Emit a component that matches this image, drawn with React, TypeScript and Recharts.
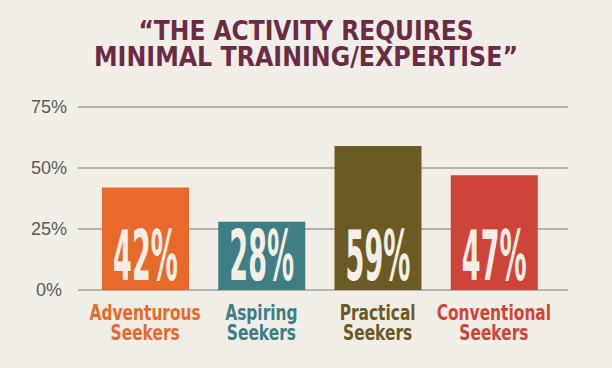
import { Bar, BarChart, CartesianGrid, Cell, LabelList, XAxis, YAxis } from "recharts";

const segments = ["Adventurous Seekers", "Aspiring Seekers", "Practical Seekers", "Conventional Seekers"];
const shares = [42, 28, 59, 47];
const colors = ["#e8692a", "#3f7e85", "#6b5a24", "#cf4439"];
const yTicks = [0, 25, 50, 75];
const titleLines = ["\u201CTHE ACTIVITY REQUIRES", "MINIMAL TRAINING/EXPERTISE\u201D"];

const data = segments.map((name, i) => ({ name, value: shares[i] }));

const narrow = "'DejaVu Sans Condensed', 'Liberation Sans', sans-serif";

function SegmentTick(props: any) {
  const { x, y, payload, index } = props;
  const words = String(payload.value).split(" ");
  return (
    <g transform={`translate(${x},${y}) scale(0.78,1)`}>
      {words.map((w, i) => (
        <text
          key={w}
          x={0}
          y={30 + i * 20}
          textAnchor="middle"
          fill={colors[index]}
          fontFamily={narrow}
          fontWeight={700}
          fontSize={22}
        >
          {w}
        </text>
      ))}
    </g>
  );
}

function PercentTick(props: any) {
  const { y, payload } = props;
  return (
    <text x={49} y={y} dy="0.35em" textAnchor="middle" fill="#5a5a5a" fontFamily="'Liberation Sans', sans-serif" fontSize={18}>
      {payload.value}%
    </text>
  );
}

function ValueLabel(props: any) {
  const { x, y, width, height, value } = props;
  return (
    <g transform={`translate(${x + width / 2},${y + height - 10}) scale(0.43,1)`}>
      <text x={0} y={0} textAnchor="middle" fill="#f3efe6" fontFamily={narrow} fontWeight={700} fontSize={70}>
        {value}%
      </text>
    </g>
  );
}

export default function App() {
  return (
    <div style={{ position: "fixed", top: 0, left: 0, width: 612, height: 368, background: "#f1eee7" }}>
      <svg width={612} height={80} style={{ position: "absolute", top: 0, left: 0 }}>
        {titleLines.map((line, i) => (
          <text
            key={line}
            x={306}
            y={40 + i * 26}
            textAnchor="middle"
            fill="#6b2b45"
            fontFamily={narrow}
            fontWeight={700}
            fontSize={26}
            textLength={i === 0 ? 335 : 424}
            lengthAdjust="spacingAndGlyphs"
          >
            {line}
          </text>
        ))}
      </svg>
      <BarChart width={612} height={368} data={data} margin={{ top: 107, right: 44, bottom: 0, left: 0 }}>
        <XAxis
          dataKey="name"
          height={78}
          axisLine={false}
          tickLine={false}
          tickSize={0}
          tickMargin={0}
          interval={0}
          padding={{ left: 9, right: 16 }}
          tick={<SegmentTick />}
        />
        <YAxis
          width={78}
          domain={[0, 75]}
          ticks={yTicks}
          axisLine={false}
          tickLine={false}
          tick={<PercentTick />}
        />
        <Bar dataKey="value" barSize={87} isAnimationActive={false}>
          {data.map((d, i) => (
            <Cell key={d.name} fill={colors[i]} />
          ))}
          <LabelList dataKey="value" content={<ValueLabel />} />
        </Bar>
        <CartesianGrid vertical={false} stroke="rgba(40,40,40,0.4)" strokeWidth={1.5} />
      </BarChart>
    </div>
  );
}
